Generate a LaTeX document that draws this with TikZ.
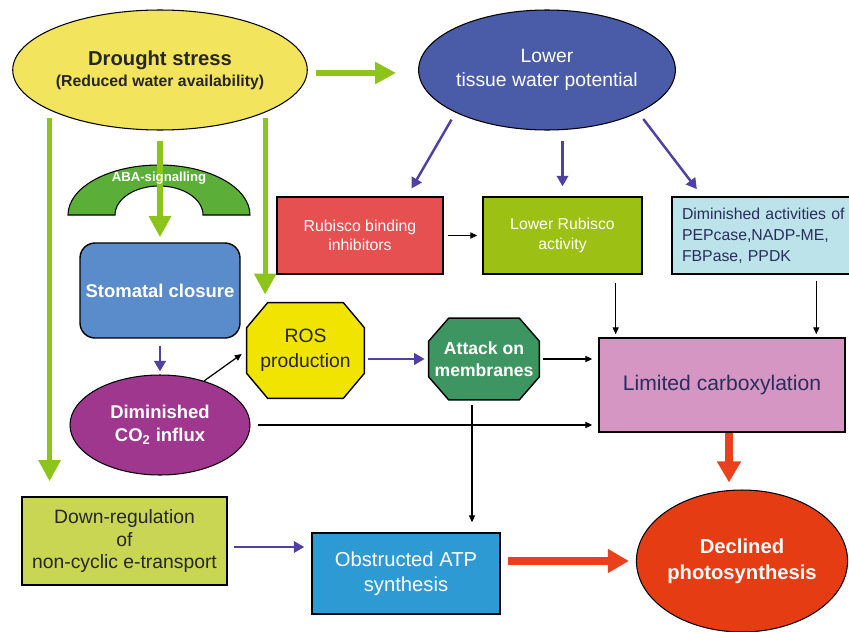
\documentclass[tikz,border=0pt]{standalone}
\usepackage{fontspec}
\setmainfont{Liberation Sans}
\usetikzlibrary{arrows.meta, positioning, shapes.geometric, calc, backgrounds}

\definecolor{droughtyellow}{HTML}{F2E45C}
\definecolor{lowerblue}{HTML}{4A5BA8}
\definecolor{rubiscored}{HTML}{E65050}
\definecolor{rubiscogreen}{HTML}{9CC013}
\definecolor{paleblue}{HTML}{BCE3EA}
\definecolor{abagreen}{HTML}{5BAF38}
\definecolor{stomablue}{HTML}{5A8BCB}
\definecolor{co2purple}{HTML}{A0378F}
\definecolor{rosyellow}{HTML}{F0E400}
\definecolor{attackgreen}{HTML}{3D9561}
\definecolor{limpink}{HTML}{D596C4}
\definecolor{downgreen}{HTML}{C9D654}
\definecolor{atpblue}{HTML}{2E9AD4}
\definecolor{declred}{HTML}{E53C13}
\definecolor{limearrow}{HTML}{8CC41C}
\definecolor{indigoarrow}{HTML}{5040A0}
\definecolor{redarrow}{HTML}{E8411B}
\definecolor{navytext}{HTML}{2A2D5C}
\definecolor{darktext}{HTML}{262626}

\begin{document}
\begin{tikzpicture}[x=0.02cm, y=-0.02cm,
    box/.style={draw=black, line width=0.8pt, inner sep=0pt, align=center},
    oval/.style={ellipse, draw=black, line width=0.6pt, inner sep=0pt, align=center},
    octa/.style={inner sep=0pt, align=center},
    greenarr/.style={draw=limearrow, line width=3pt, -{Triangle[width=12pt,length=12pt]}},
    bluearr/.style={draw=indigoarrow, line width=1.4pt, -{Triangle[width=6.5pt,length=6pt]}},
    blackarr/.style={draw=black, line width=0.7pt, -{Triangle[width=3.5pt,length=4pt]}},
    redarr/.style={draw=redarrow, line width=4pt, -{Triangle[width=13pt,length=12pt]}}]
    \useasboundingbox (0,0) rectangle (849,632);

    % Drought stress
    \node[oval, fill=droughtyellow, text=darktext, minimum width=5.8cm, minimum height=2.4cm] (drought) at (160,70)
        {{\fontsize{11.5}{14}\selectfont\bfseries Drought stress}\\
         {\fontsize{9}{11}\selectfont\bfseries (Reduced water availability)}};

    % Lower tissue water potential
    \node[oval, fill=lowerblue, text=white, minimum width=4.2cm, minimum height=2.4cm,
          font=\fontsize{11}{14}\selectfont] (lower) at (547,70) {Lower\\tissue water potential};

    % Three boxes below
    \node[box, fill=rubiscored, text=white, minimum width=3.32cm, minimum height=1.54cm,
          font=\fontsize{9}{11}\selectfont] (rubisco) at (360,235.5) {Rubisco binding\\inhibitors};
    \node[box, fill=rubiscogreen, text=white, minimum width=3.18cm, minimum height=1.54cm,
          font=\fontsize{9}{11}\selectfont] (lowrub) at (562.5,235.5) {Lower Rubisco\\activity};
    \node[box, fill=paleblue, text=navytext, minimum width=3.9cm, minimum height=1.54cm,
          text width=3.5cm, align=left, font=\fontsize{9}{12}\selectfont] (dimact) at (769.5,235.5)
        {Diminished activities of\\PEPcase,NADP-ME,\\FBPase, PPDK};

    % ABA arch
    \filldraw[fill=abagreen, draw=black, line width=0.6pt] (68,215)
        arc[start angle=180, end angle=0, x radius=1.82cm, y radius=1cm] -- (203,215)
        arc[start angle=0, end angle=180, x radius=0.88cm, y radius=0.58cm] -- cycle;

    % Stomata and CO2
    \node[box, rounded corners=0.3cm, fill=stomablue, text=white, minimum width=3.2cm, minimum height=1.9cm,
          font=\fontsize{10.5}{13}\selectfont\bfseries] (stomatal) at (160,290.5) {Stomatal closure};
    \node[oval, fill=co2purple, text=white, minimum width=3.6cm, minimum height=2cm,
          font=\fontsize{10.5}{13}\selectfont\bfseries] (dimco2) at (160,425) {Diminished\\CO\textsubscript{2} influx};

    % Octagons
    \node[octa, text=darktext, minimum width=2.34cm, minimum height=1.9cm,
          font=\fontsize{11}{14}\selectfont] (ros) at (305.5,350.5) {ROS\\production};
    \node[octa, text=white, minimum width=2.2cm, minimum height=1.62cm,
          font=\fontsize{10}{12.5}\selectfont\bfseries] (attack) at (484,359) {Attack on\\membranes};
    \begin{scope}[on background layer]
        \filldraw[fill=rosyellow, draw=black, line width=0.8pt]
            ($(ros.north west)+(21,0)$) -- ($(ros.north east)+(-21,0)$) -- ($(ros.north east)+(0,25)$)
            -- ($(ros.south east)+(0,-25)$) -- ($(ros.south east)+(-21,0)$) -- ($(ros.south west)+(21,0)$)
            -- ($(ros.south west)+(0,-25)$) -- ($(ros.north west)+(0,25)$) -- cycle;
        \filldraw[fill=attackgreen, draw=black, line width=0.8pt]
            ($(attack.north west)+(20,0)$) -- ($(attack.north east)+(-20,0)$) -- ($(attack.north east)+(0,23)$)
            -- ($(attack.south east)+(0,-23)$) -- ($(attack.south east)+(-20,0)$) -- ($(attack.south west)+(20,0)$)
            -- ($(attack.south west)+(0,-23)$) -- ($(attack.north west)+(0,23)$) -- cycle;
    \end{scope}

    % Limited carboxylation
    \node[box, fill=limpink, text=navytext, minimum width=4.92cm, minimum height=1.88cm,
          font=\fontsize{12}{14}\selectfont] (limited) at (722,385) {Limited carboxylation};

    % Bottom row
    \node[box, fill=downgreen, text=darktext, minimum width=4.1cm, minimum height=1.76cm,
          font=\fontsize{11}{13}\selectfont] (downreg) at (124.5,541) {Down-regulation\\of\\non-cyclic e-transport};
    \node[box, fill=atpblue, text=white, minimum width=3.76cm, minimum height=1.62cm,
          font=\fontsize{11.5}{14}\selectfont] (atp) at (406,573.5) {Obstructed ATP\\synthesis};
    \node[oval, fill=declred, text=white, minimum width=4.2cm, minimum height=2.84cm,
          font=\fontsize{11.5}{15}\selectfont\bfseries] (declined) at (742,561) {Declined\\photosynthesis};

    % Green arrows from drought
    \draw[greenarr] ([shift={(8,3)}]drought.east) -- ([shift={(-22,3)}]lower.west);
    \draw[greenarr, shorten >=0.1cm] ([yshift=-0.2cm]drought.south) -- (stomatal.north);
    \draw[greenarr, shorten <=0.1cm, shorten >=0.16cm] (drought.338) -- (drought.338 |- ros.north);
    \draw[greenarr, shorten <=0.16cm, shorten >=0.3cm] (drought.200) -- (drought.200 |- downreg.north);
    \node[text=white, font=\fontsize{7.5}{9}\selectfont\bfseries] (aba) at (159,178) {ABA-signalling};

    % Blue arrows from lower potential
    \draw[bluearr, shorten <=0.16cm, shorten >=0.18cm] (lower.205) -- ([xshift=0.94cm]rubisco.north);
    \draw[bluearr, shorten <=0.2cm, shorten >=0.2cm] (lower.south -| lowrub.north) -- (lowrub.north);
    \draw[bluearr, shorten <=0.16cm, shorten >=0.18cm] (lower.335) -- ([xshift=0.62cm]dimact.north west);

    % Into limited carboxylation
    \draw[blackarr, shorten <=0.08cm, shorten >=0.1cm] (rubisco) -- (lowrub);
    \draw[blackarr, shorten <=0.16cm, shorten >=0.06cm] ([xshift=-0.54cm]lowrub.south east) -- ([xshift=-0.54cm]lowrub.south east |- limited.north);
    \draw[blackarr, shorten <=0.12cm, shorten >=0.06cm] ([xshift=2.9cm]dimact.south west) -- ([xshift=2.9cm]dimact.south west |- limited.north);

    % Stomata path
    \draw[bluearr, shorten <=0.14cm, shorten >=0.06cm] (stomatal) -- (dimco2);
    \draw[blackarr, shorten >=0.12cm] (dimco2.45) -- (ros.west);
    \draw[bluearr, shorten <=0.08cm, shorten >=0.08cm] (ros.east |- attack) -- (attack.west);
    \draw[blackarr, shorten <=0.08cm, shorten >=0.12cm] (attack.east) -- (attack.east -| limited.west);
    \draw[blackarr, shorten <=0.14cm, shorten >=0.12cm] (dimco2.east) -- (dimco2.east -| limited.west);
    \draw[blackarr, shorten <=0.1cm, shorten >=0.2cm] ([xshift=-0.24cm]attack.south) -- ([xshift=-0.24cm]attack.south |- atp.north);

    % To declined photosynthesis
    \draw[redarr, shorten >=0.14cm] ([xshift=0.14cm]limited.south) -- ([xshift=0.14cm]limited.south |- declined.north);
    \draw[bluearr, shorten <=0.12cm, shorten >=0.14cm] ([yshift=-0.12cm]downreg.east) -- ([yshift=-0.12cm]downreg.east -| atp.west);
    \draw[redarr, shorten <=0.14cm, shorten >=0.14cm] (atp.east |- declined) -- (declined.west);
\end{tikzpicture}
\end{document}
